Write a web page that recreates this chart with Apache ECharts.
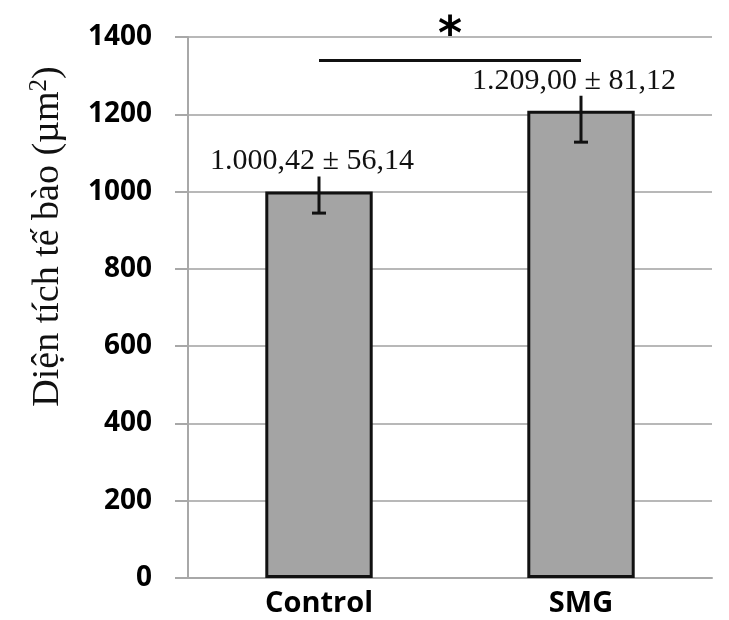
<!DOCTYPE html>
<html>
<head>
<meta charset="utf-8">
<script src="https://cdn.jsdelivr.net/npm/echarts@6/dist/echarts.min.js"></script>
<style>
  html, body { margin: 0; padding: 0; background: #fff; }
  #chart { width: 729px; height: 620px; }
</style>
</head>
<body>
<div id="chart"></div>
<script>
// data
const categories = ['Control', 'SMG'];
const means = [1000.42, 1209.00];
const errors = [56.14, 81.12];
const valueLabels = ['1.000,42 \u00b1 56,14', '1.209,00 \u00b1 81,12'];
const sigLevel = 1340; // height of the significance bar
const yTicks = { min: 0, max: 1400, interval: 200 };

const chart = echarts.init(document.getElementById('chart'));

const errData = categories.map((c, i) => [i, means[i], errors[i]]);

chart.setOption({
  animation: false,
  grid: { left: 188, right: 17, top: 37, bottom: 42 },
  xAxis: {
    type: 'category',
    data: categories,
    axisLine: { lineStyle: { color: '#a8a8a8', width: 2 } },
    axisTick: { length: 10, lineStyle: { color: '#a8a8a8', width: 2 } },
    axisLabel: {
      color: '#000', fontFamily: 'Open Sans', fontWeight: 'bold',
      fontSize: 29, margin: 11
    }
  },
  yAxis: {
    type: 'value',
    min: yTicks.min, max: yTicks.max, interval: yTicks.interval,
    name: '{t|Diện tích tế bào (µm}{s|2}{t|)}',
    nameLocation: 'middle',
    nameGap: 118,
    nameRotate: 90,
    nameTextStyle: {
      fontFamily: 'Liberation Serif', fontSize: 38, color: '#111',
      padding: [0, 0, 0, 142],
      rich: {
        t: { fontFamily: 'Liberation Serif', fontSize: 38, color: '#111' },
        s: { fontFamily: 'Liberation Serif', fontSize: 25, color: '#111', verticalAlign: 'top', padding: [0, 0, 18, 0] }
      }
    },
    axisLine: { show: true, lineStyle: { color: '#a8a8a8', width: 2 } },
    axisTick: { show: true, length: 13, lineStyle: { color: '#a8a8a8', width: 2 } },
    splitLine: { lineStyle: { color: '#b8b8b8', width: 2 } },
    axisLabel: {
      color: '#000', fontFamily: 'Open Sans', fontWeight: 'bold',
      fontSize: 28, margin: 36,
      formatter: v => String(v)
    }
  },
  series: [
    {
      type: 'bar',
      data: means,
      barWidth: '41%',
      itemStyle: { color: '#a4a4a4', borderColor: '#111', borderWidth: 3 },
      markLine: {
        symbol: 'none',
        silent: true,
        lineStyle: { color: '#111', width: 3, type: 'solid' },
        label: {
          show: true, position: 'middle', formatter: '*',
          color: '#000', fontSize: 46, fontWeight: 'bold', fontFamily: 'DejaVu Sans',
          distance: 0
        },
        data: [[
          { coord: [categories[0], sigLevel] },
          { coord: [categories[1], sigLevel] }
        ]]
      }
    },
    {
      type: 'custom',
      data: errData,
      z: 5,
      renderItem: function (params, api) {
        const i = api.value(0), m = api.value(1), e = api.value(2);
        const hi = api.coord([i, m + e]);
        const lo = api.coord([i, m - e]);
        const top = api.coord([i, m]);
        const st = { stroke: '#111', lineWidth: 3 };
        return {
          type: 'group',
          children: [
            { type: 'line', shape: { x1: hi[0], y1: hi[1], x2: lo[0], y2: lo[1] }, style: st },
            { type: 'line', shape: { x1: lo[0] - 7, y1: lo[1], x2: lo[0] + 7, y2: lo[1] }, style: st },
            {
              type: 'text', z2: 10,
              style: {
                x: top[0] - 7, y: top[1] - 30,
                text: valueLabels[params.dataIndex],
                align: 'center', verticalAlign: 'middle',
                fontFamily: 'Liberation Serif', fontSize: 30, fill: '#111',
                backgroundColor: '#fff', padding: [0, 2, 0, 2]
              }
            }
          ]
        };
      }
    }
  ]
});
</script>
</body>
</html>
